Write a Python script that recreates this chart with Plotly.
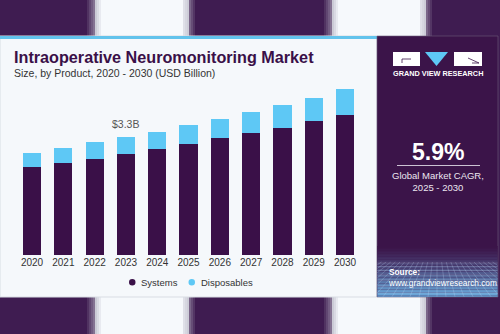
import plotly.graph_objects as go

# ---- data (USD Billion) ----
years = ["2020", "2021", "2022", "2023", "2024", "2025", "2026", "2027", "2028", "2029", "2030"]
systems = [2.45, 2.56, 2.69, 2.82, 2.96, 3.11, 3.26, 3.41, 3.56, 3.76, 3.92]
disposables = [0.41, 0.43, 0.46, 0.48, 0.49, 0.53, 0.55, 0.58, 0.63, 0.64, 0.73]
highlight_year = "2023"
highlight_label = "$3.3B"
cagr_text = "5.9%"

W, H = 500, 334
PURPLE_BG = (63, 28, 81)
PANEL = "#3b1449"
SYS_COLOR = "#3a1048"
DISP_COLOR = "#5ec8f5"
CARD = "#f5f8fb"


def px(x):
    return x / W


def py(y):
    return 1 - y / H


def rgb(c):
    return "rgb(%d,%d,%d)" % tuple(int(round(v)) for v in c)


def mix(a, b, t):
    return tuple(a[i] + (b[i] - a[i]) * t for i in range(3))


shapes = []


def rect(x0, y0, x1, y1, color, layer="below", line=None):
    shapes.append(dict(type="rect", xref="paper", yref="paper",
                       x0=px(x0), x1=px(x1), y0=py(y1), y1=py(y0),
                       fillcolor=color, layer=layer,
                       line=line or dict(width=0)))


def seg(x0, y0, x1, y1, color, width=1, layer="above"):
    shapes.append(dict(type="line", xref="paper", yref="paper",
                       x0=px(x0), x1=px(x1), y0=py(y0), y1=py(y1),
                       line=dict(color=color, width=width), layer=layer))


# backdrop: light vertical columns behind the card
WHITE = (246, 249, 252)
GREY = (200, 200, 212)
for sx0, sx1 in [(85, 195), (322, 432)]:
    x = sx0
    while x < sx1:
        t_in = (x - sx0) / 16.0
        t_out = (sx1 - x) / 14.0
        if t_in < 1:
            c = mix(PURPLE_BG, GREY, t_in) if t_in < 0.6 else mix(GREY, WHITE, (t_in - 0.6) / 0.4)
        elif t_out < 1:
            c = mix(PURPLE_BG, GREY, t_out) if t_out < 0.5 else mix(GREY, (232, 234, 240), (t_out - 0.5) / 0.5)
        else:
            c = WHITE
        rect(x, 0, x + 2, H, rgb(c))
        x += 2

# card with a light-blue top edge
rect(0, 36, 377, 297, CARD, line=dict(color="#d8dde3", width=1))
rect(0, 36, 377, 39, "#62c3ec")

# right-hand info panel
rect(377, 36, 498, 297, PANEL, line=dict(color="#6b5a78", width=0.6))

# panel footer: vertical gradient with a perspective grid
top_c, bot_c = (59, 20, 73), (108, 176, 226)
y = 246
while y < 296.5:
    t = ((y - 246) / 51.0) ** 1.2
    rect(377.3, y, 497.7, min(y + 1.5, 296.7), rgb(mix(top_c, bot_c, t)))
    y += 1.5
grid_col = "rgba(200,225,255,0.30)"
for gy in [263, 266.5, 270.5, 275, 280, 286, 293]:
    seg(377.3, gy, 497.7, gy, grid_col, 0.8)
vx, vy, hy = 437, 225, 262
for k in range(-14, 15):
    xb = vx + k * 9.0
    xt = vx + (xb - vx) * (hy - vy) / (297 - vy)
    # clip to panel width
    x0c, y0c, x1c, y1c = xt, hy, xb, 296.7
    if x1c < 377.3:
        y1c = y0c + (377.3 - x0c) / (x1c - x0c) * (y1c - y0c)
        x1c = 377.3
    if x1c > 497.7:
        y1c = y0c + (497.7 - x0c) / (x1c - x0c) * (y1c - y0c)
        x1c = 497.7
    if 377 <= x0c <= 497:
        seg(x0c, y0c, x1c, y1c, grid_col, 0.8)

# logo
rect(393, 52, 420, 66, "white", layer="above")
rect(454, 52, 482, 66, "white", layer="above")
shapes.append(dict(type="path", xref="paper", yref="paper",
                   path="M %f,%f L %f,%f L %f,%f Z" % (px(425), py(52), px(448), py(52), px(436.5), py(66)),
                   fillcolor="#5ec8f5", line=dict(width=0), layer="above"))
seg(402, 59, 411, 59, "#3b1449", 0.8)
seg(402, 59, 402, 63, "#3b1449", 0.8)
seg(468, 58, 479, 63, "#3b1449", 0.8)
seg(472, 63, 479, 63, "#3b1449", 0.8)

# divider under the CAGR figure
seg(397, 165.5, 480, 165.5, "rgba(230,225,235,0.85)", 1.2)

# legend markers
shapes.append(dict(type="circle", xref="paper", yref="paper",
                   x0=px(129), x1=px(135.5), y0=py(285.5), y1=py(279), fillcolor=SYS_COLOR,
                   line=dict(width=0), layer="above"))
shapes.append(dict(type="circle", xref="paper", yref="paper",
                   x0=px(188.5), x1=px(195), y0=py(285.5), y1=py(279), fillcolor=DISP_COLOR,
                   line=dict(width=0), layer="above"))

FONT = "Liberation Sans, Arial, sans-serif"


def note(text, x, y, size, color, xanchor="left", align="left"):
    return dict(text=text, x=px(x), y=py(y), xref="paper", yref="paper", xanchor=xanchor,
                yanchor="middle", align=align, showarrow=False,
                font=dict(family=FONT, size=size, color=color))


hi = years.index(highlight_year)
annotations = [
    note("<b>Intraoperative Neuromonitoring Market</b>", 12, 57, 16.2, "#3a1048"),
    note("Size, by Product, 2020 - 2030 (USD Billion)", 12, 73, 10.5, "#333333"),
    note("Systems", 139, 282, 9.5, "#333333"),
    note("Disposables", 199, 282, 9.5, "#333333"),
    note("<b>GRAND VIEW RESEARCH</b>", 438, 73.5, 7.3, "white", xanchor="center"),
    note("<b>" + cagr_text + "</b>", 438, 152, 23, "white", xanchor="center"),
    note("Global Market CAGR,<br>2025 - 2030", 438, 181, 9.5, "#ece6f0", xanchor="center",
         align="center"),
    note("<b>Source:</b><br>www.grandviewresearch.com", 386, 277, 8.3, "white"),
    # value label on the highlighted year
    dict(text=highlight_label, x=hi, y=systems[hi] + disposables[hi], xref="x", yref="y",
         xanchor="center", yanchor="bottom", yshift=5, showarrow=False,
         font=dict(family=FONT, size=10.5, color="#555555")),
]

fig = go.Figure()
fig.add_trace(go.Bar(x=years, y=systems, name="Systems", marker=dict(color=SYS_COLOR, line=dict(width=0))))
fig.add_trace(go.Bar(x=years, y=disposables, name="Disposables",
                     marker=dict(color=DISP_COLOR, line=dict(width=0))))

fig.update_layout(
    width=W, height=H, margin=dict(l=0, r=0, t=0, b=0),
    paper_bgcolor=rgb(PURPLE_BG), plot_bgcolor="rgba(0,0,0,0)",
    barmode="stack", bargap=0.42, showlegend=False,
    shapes=shapes, annotations=annotations,
    xaxis=dict(type="category", domain=[px(16.4), px(360.7)], range=[-0.5, 10.5], showgrid=False,
               zeroline=False, showline=False, ticks="",
               tickfont=dict(family=FONT, size=10, color="#333333"), anchor="y", fixedrange=True),
    yaxis=dict(domain=[py(255), py(76.2)], range=[0, 5], showgrid=False, zeroline=False,
               showticklabels=False, fixedrange=True),
)

fig.write_html("out.html")
